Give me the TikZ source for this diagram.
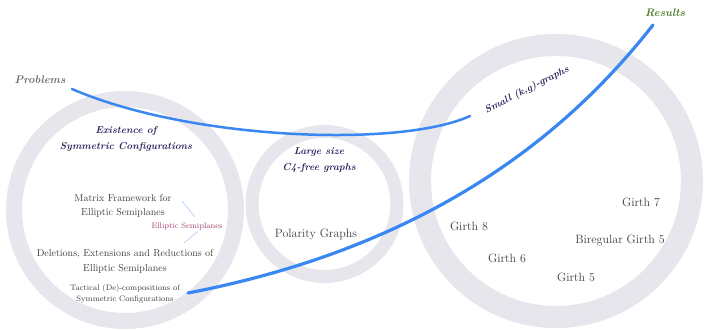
\documentclass[tikz,border=0pt]{standalone}
\usepackage{xcolor}
\usetikzlibrary{arrows.meta, positioning}

\definecolor{ringgray}{HTML}{E6E6EC}
\definecolor{pathblue}{HTML}{3A87F2}
\definecolor{linkblue}{HTML}{A9C9F2}
\definecolor{headnavy}{HTML}{2A2660}
\definecolor{textgray}{HTML}{3E3E3E}
\definecolor{probgray}{HTML}{6E6E6E}
\definecolor{esmaroon}{HTML}{A3416F}
\definecolor{resgreen}{HTML}{4F7B2B}

\tikzset{
  ring/.style={circle, draw=ringgray, inner sep=0pt},
  topic/.style={font=\fontsize{10}{16}\selectfont\bfseries\itshape, text=headnavy, align=center},
  work/.style={text=textgray, align=center},
  road/.style={draw=pathblue, line cap=round},
}

\begin{document}
\begin{tikzpicture}[x=1pt, y=-1pt]
\useasboundingbox (0,0) rectangle (704,331);
% the three areas
\node[ring, line width=16pt, minimum size=222pt] (exist) at (125,210) {};
\node[ring, line width=13pt, minimum size=145pt] (large) at (324.5,204) {};
\node[ring, line width=22pt, minimum size=272pt] (small) at (556,181) {};

% headings
\node[topic] (existhead) at (126,139) {Existence of\\Symmetric Configurations};
\node[topic] (largehead) at (319,160) {Large size\\C4-free graphs};
\node[topic, rotate=27] (smallhead) at (527,90) {Small (k,g)-graphs};

\node[font=\fontsize{11}{13}\selectfont\bfseries\itshape, text=probgray] (prob) at (40,80) {Problems};
\node[font=\fontsize{11}{13}\selectfont\bfseries\itshape, text=resgreen] (res) at (665,13) {Results};

% works
\node[work, font=\fontsize{10}{14}\selectfont] (matrix) at (123,206) {Matrix Framework for\\Elliptic Semiplanes};
\node[work, font=\fontsize{10}{15}\selectfont] (delet) at (125,261.5) {Deletions, Extensions and Reductions of\\Elliptic Semiplanes};
\node[work, font=\fontsize{8}{11}\selectfont] (tact) at (125,293.5) {Tactical (De)-compositions of\\Symmetric Configurations};
\node[font=\fontsize{8}{10}\selectfont, text=esmaroon] (es) at (187,226) {Elliptic Semiplanes};
\node[work, font=\fontsize{12}{14}\selectfont] (polar) at (316,234) {Polarity Graphs};
\node[work, font=\fontsize{12}{14}\selectfont] (g7) at (641,202) {Girth 7};
\node[work, font=\fontsize{12}{14}\selectfont] (g8) at (469,226) {Girth 8};
\node[work, font=\fontsize{12}{14}\selectfont] (bg5) at (620,241) {Biregular Girth 5};
\node[work, font=\fontsize{12}{14}\selectfont] (g6) at (507,258) {Girth 6};
\node[work, font=\fontsize{12}{14}\selectfont] (g5) at (576,277) {Girth 5};

% links to the elliptic semiplanes tag
\coordinate (l1a) at (182,201);
\coordinate (l1b) at (195,217);
\coordinate (l2a) at (197,232);
\coordinate (l2b) at (184,243);
\draw[linkblue, line width=0.6pt] (l1a) -- (l1b);
\draw[linkblue, line width=0.6pt] (l2a) -- (l2b);

% the two roads
\coordinate (p0) at (72,89);
\coordinate (p1) at (470,116);
\draw[road, line width=2.5pt] (p0) .. controls (190,140) and (400,148) .. (p1);
\coordinate (r0) at (188,293);
\coordinate (r1) at (653,25);
\draw[road, line width=3.2pt] (r0) .. controls (438,245) and (573,127) .. (r1);
\end{tikzpicture}
\end{document}
